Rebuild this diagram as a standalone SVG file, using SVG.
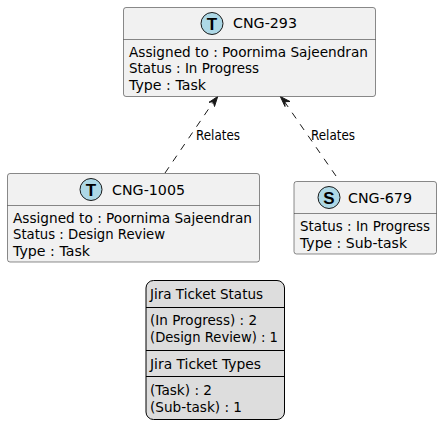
<svg xmlns="http://www.w3.org/2000/svg" width="442" height="438" viewBox="0 0 442 438">
<style>
text{font-family:"DejaVu Sans",sans-serif;font-size:14.500px;fill:#000}
.box{fill:#f1f1f1;stroke:#181818;stroke-width:.5}
.sep{stroke:#181818;stroke-width:.5;fill:none}
.icon{fill:#add8e6;stroke:#181818;stroke-width:1}
.letter{font-family:"Liberation Sans",sans-serif;font-weight:bold;font-size:17px;text-anchor:middle}
.leg{fill:#dddddd;stroke:#000;stroke-width:1}
.legsep{stroke:#000;stroke-width:1;fill:none}
.conn{stroke:#181818;stroke-width:1;stroke-dasharray:7 7;fill:none}
.head{fill:#181818;stroke:#181818;stroke-width:1}
.lbl{font-size:13.500px}
</style>
<g id="connectors">
<line class="conn" x1="165" y1="173" x2="214" y2="101"/>
<path class="head" d="M217.700,96.500 L214.500,106.500 L213.300,101.700 L209,102.300 Z"/>
<text class="lbl" x="196" y="140" textLength="44" lengthAdjust="spacingAndGlyphs">Relates</text>
<line class="conn" x1="336" y1="176" x2="284" y2="101"/>
<path class="head" d="M280.300,96.500 L290,101.500 L284.800,101.700 L285,106.500 Z"/>
<text class="lbl" x="311" y="140" textLength="44" lengthAdjust="spacingAndGlyphs">Relates</text>
</g>
<g id="CNG-293">
<rect class="box" x="123.500" y="7.500" width="252" height="89" rx="2.500"/>
<line class="sep" x1="123.500" y1="39.500" x2="375.500" y2="39.500"/>
<circle class="icon" cx="212" cy="23.500" r="11"/>
<text class="letter" x="212" y="29.500">T</text>
<text x="233" y="28" textLength="64" lengthAdjust="spacingAndGlyphs">CNG-293</text>
<text x="129" y="57" textLength="239" lengthAdjust="spacingAndGlyphs">Assigned to : Poornima Sajeendran</text>
<text x="129" y="73" textLength="130" lengthAdjust="spacingAndGlyphs">Status : In Progress</text>
<text x="129" y="90" textLength="77" lengthAdjust="spacingAndGlyphs">Type : Task</text>
</g>
<g id="CNG-1005">
<rect class="box" x="7.500" y="173.500" width="252" height="88.500" rx="2.500"/>
<line class="sep" x1="7.500" y1="205.500" x2="259.500" y2="205.500"/>
<circle class="icon" cx="91" cy="189.500" r="11"/>
<text class="letter" x="91" y="195.500">T</text>
<text x="112" y="195" textLength="73" lengthAdjust="spacingAndGlyphs">CNG-1005</text>
<text x="13" y="223" textLength="239" lengthAdjust="spacingAndGlyphs">Assigned to : Poornima Sajeendran</text>
<text x="13" y="239" textLength="152" lengthAdjust="spacingAndGlyphs">Status : Design Review</text>
<text x="13" y="256" textLength="77" lengthAdjust="spacingAndGlyphs">Type : Task</text>
</g>
<g id="CNG-679">
<rect class="box" x="294" y="181.500" width="142.500" height="72.500" rx="2.500"/>
<line class="sep" x1="294" y1="213.500" x2="436.500" y2="213.500"/>
<circle class="icon" cx="329" cy="197.500" r="11"/>
<text class="letter" x="329" y="203.500">S</text>
<text x="348" y="203" textLength="64" lengthAdjust="spacingAndGlyphs">CNG-679</text>
<text x="300" y="231" textLength="130" lengthAdjust="spacingAndGlyphs">Status : In Progress</text>
<text x="300" y="248" textLength="107" lengthAdjust="spacingAndGlyphs">Type : Sub-task</text>
</g>
<g id="legend">
<rect class="leg" x="146" y="280.500" width="138.500" height="139" rx="7.500"/>
<line class="legsep" x1="146" y1="307.500" x2="284.500" y2="307.500"/>
<line class="legsep" x1="146" y1="350.500" x2="284.500" y2="350.500"/>
<line class="legsep" x1="146" y1="376.500" x2="284.500" y2="376.500"/>
<text x="150" y="299" textLength="113" lengthAdjust="spacingAndGlyphs">Jira Ticket Status</text>
<text x="150" y="325" textLength="107" lengthAdjust="spacingAndGlyphs">(In Progress) : 2</text>
<text x="150" y="342" textLength="128" lengthAdjust="spacingAndGlyphs">(Design Review) : 1</text>
<text x="150" y="369" textLength="111" lengthAdjust="spacingAndGlyphs">Jira Ticket Types</text>
<text x="150" y="395" textLength="62" lengthAdjust="spacingAndGlyphs">(Task) : 2</text>
<text x="150" y="412" textLength="92" lengthAdjust="spacingAndGlyphs">(Sub-task) : 1</text>
</g>
</svg>
